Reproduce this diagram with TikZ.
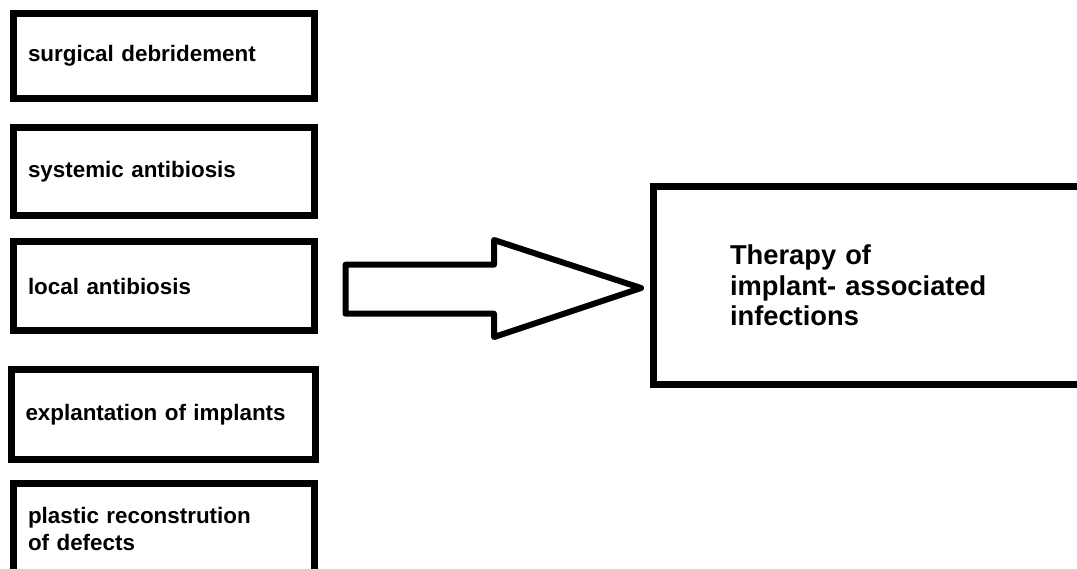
\documentclass[tikz,border=0pt]{standalone}
\usepackage{fontspec}
\setmainfont{Liberation Sans}
\begin{document}
\begin{tikzpicture}[x=1pt,y=-1pt,
  lbox/.style={draw=black, line width=7pt, outer sep=0pt, anchor=north west,
    minimum width=301pt, text width=272pt, inner xsep=14.5pt, inner ysep=0pt,
    align=left, font=\fontsize{22.4}{27}\selectfont\bfseries},
  tbox/.style={draw=black, line width=7pt, outer sep=0pt, anchor=north west,
    minimum width=436.5pt, minimum height=198pt, text width=283.5pt, inner xsep=76.5pt,
    align=left, font=\fontsize{27.3}{30.5}\selectfont\bfseries},
  barrow/.style={draw=black, line width=6pt, line join=round, fill=white}]
\useasboundingbox (0,0) rectangle (1077,568);
\clip (0,0) rectangle (1077,568);
\node[lbox, minimum height=85pt] (surg) at (13.5,13.5) {surgical debridement};
\node[lbox, minimum height=88pt] (syst) at (13.5,127.5) {systemic antibiosis};
\node[lbox, minimum height=89pt] (loc) at (13.5,241.5) {local antibiosis};
\node[lbox, minimum height=90pt, minimum width=304pt, text width=276pt, inner xsep=14pt] (expl) at (11.5,369.5) {explantation of implants};
\node[lbox, minimum height=90pt] (plas) at (13.5,483.5) {plastic reconstrution\\of defects};
\node[tbox] (ther) at (653.5,186.5) {Therapy of\\implant- associated\\infections};
\coordinate (tip) at (641,288);
\draw[barrow] (345.5,264.7) -- (494,264.7) -- (494,240) -- (tip) -- (494,337) -- (494,313.7) -- (345.5,313.7) -- cycle;
\end{tikzpicture}
\end{document}
